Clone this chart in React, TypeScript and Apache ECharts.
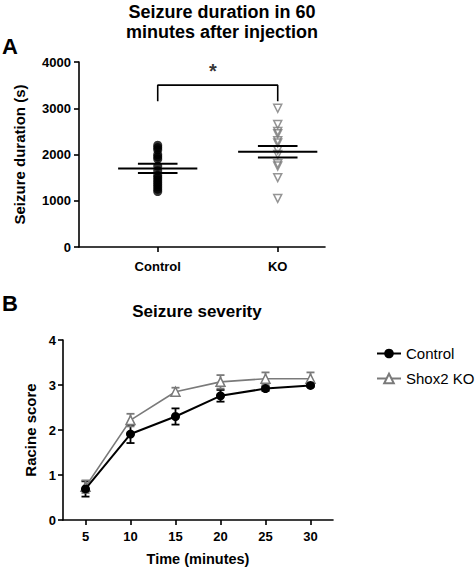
import React, { useEffect, useRef } from "react";
import * as echarts from "echarts";

// Panel A: seizure duration (s)
const groups = ["Control", "KO"];
const controlDuration = [2200, 2150, 2100, 2000, 1950, 1900, 1750, 1650, 1550, 1500, 1450, 1400, 1350, 1300, 1250, 1200];
const koDuration = [3000, 2650, 2500, 2450, 2300, 2250, 2100, 2000, 1800, 1750, 1500, 1050];
const durationMean = [1700, 2060];
const durationSem = [100, 125];
const bracketLow = 3150;
const bracketHigh = 3500;
const durationTicks = [0, 1000, 2000, 3000, 4000];

// Panel B: seizure severity (Racine score)
const timePoints = ["5", "10", "15", "20", "25", "30"];
const controlScore = [0.69, 1.91, 2.3, 2.76, 2.92, 2.99];
const controlScoreSem = [0.17, 0.2, 0.18, 0.13, 0.05, 0.03];
const koScore = [0.74, 2.22, 2.85, 3.07, 3.14, 3.14];
const koScoreSem = [0.14, 0.14, 0.09, 0.15, 0.14, 0.14];
const scoreTicks = [0, 1, 2, 3, 4];

const FONT = 'Arial, "Liberation Sans", Helvetica, sans-serif';
const GRAY = "#7a7a7a";

export default function App() {
  const ref = useRef<HTMLDivElement>(null);

  useEffect(() => {
    if (!ref.current) return;
    const chart = echarts.init(ref.current, null, { renderer: "svg" });

    const errorBarItem = (color: string) => (params: any, api: any) => {
      const x = api.value(0);
      const lo = api.value(1);
      const hi = api.value(2);
      const top = api.coord([x, hi]);
      const bot = api.coord([x, lo]);
      const w = 4;
      const style = { stroke: color, lineWidth: 1.8 };
      return {
        type: "group",
        children: [
          { type: "line", shape: { x1: top[0], y1: top[1], x2: bot[0], y2: bot[1] }, style },
          { type: "line", shape: { x1: top[0] - w, y1: top[1], x2: top[0] + w, y2: top[1] }, style },
          { type: "line", shape: { x1: bot[0] - w, y1: bot[1], x2: bot[0] + w, y2: bot[1] }, style },
        ],
      };
    };

    const meanSemItem = (params: any, api: any) => {
      const x = api.value(0);
      const m = api.value(1);
      const s = api.value(2);
      const mL = api.coord([x - 0.33, m]);
      const mR = api.coord([x + 0.33, m]);
      const uL = api.coord([x - 0.165, m + s]);
      const uR = api.coord([x + 0.165, m + s]);
      const lL = api.coord([x - 0.165, m - s]);
      const lR = api.coord([x + 0.165, m - s]);
      const style = { stroke: "#000", lineWidth: 2 };
      return {
        type: "group",
        children: [
          { type: "line", shape: { x1: mL[0], y1: mL[1], x2: mR[0], y2: mR[1] }, style },
          { type: "line", shape: { x1: uL[0], y1: uL[1], x2: uR[0], y2: uR[1] }, style },
          { type: "line", shape: { x1: lL[0], y1: lL[1], x2: lR[0], y2: lR[1] }, style },
        ],
      };
    };

    const axisLine = { show: true, lineStyle: { color: "#000", width: 1.6 } };
    const axisTick = { show: true, length: 5, lineStyle: { color: "#000", width: 1.6 } };
    const labelStyle = { color: "#000", fontWeight: "bold" as const, fontSize: 13, fontFamily: FONT };
    const nameStyle = { color: "#000", fontWeight: "bold" as const, fontFamily: FONT };

    const option: any = {
      animation: false,
      textStyle: { fontFamily: FONT, color: "#000" },
      grid: [
        { left: 79, top: 62, width: 246, height: 185 },
        { left: 63, top: 340, width: 270, height: 180 },
      ],
      legend: {
        data: ["Control", "Shox2 KO"],
        orient: "vertical",
        left: 371,
        top: 341,
        itemWidth: 24,
        itemHeight: 12,
        itemGap: 10,
        textStyle: { fontSize: 15, color: "#000", fontFamily: FONT },
      },
      xAxis: [
        {
          type: "value",
          gridIndex: 0,
          min: 0.344,
          max: 2.394,
          axisLine,
          axisTick: { ...axisTick, customValues: [1, 2] },
          axisLabel: {
            ...labelStyle,
            customValues: [1, 2],
            margin: 13,
            formatter: (v: number) => groups[Math.round(v) - 1] ?? "",
          },
          splitLine: { show: false },
        },
        {
          type: "category",
          gridIndex: 1,
          data: timePoints,
          boundaryGap: true,
          axisLine,
          axisTick: { ...axisTick, alignWithLabel: true },
          axisLabel: { ...labelStyle, margin: 10 },
          name: "Time (minutes)",
          nameLocation: "middle",
          nameGap: 31,
          nameTextStyle: { ...nameStyle, fontSize: 14.5 },
        },
      ],
      yAxis: [
        {
          type: "value",
          gridIndex: 0,
          min: durationTicks[0],
          max: durationTicks[durationTicks.length - 1],
          interval: 1000,
          axisLine,
          axisTick,
          axisLabel: { ...labelStyle, margin: 8, formatter: (v: number) => String(v) },
          splitLine: { show: false },
          name: "Seizure duration (s)",
          nameLocation: "middle",
          nameGap: 52,
          nameTextStyle: { ...nameStyle, fontSize: 15 },
        },
        {
          type: "value",
          gridIndex: 1,
          min: scoreTicks[0],
          max: scoreTicks[scoreTicks.length - 1],
          interval: 1,
          axisLine,
          axisTick,
          axisLabel: { ...labelStyle, margin: 7, formatter: (v: number) => String(v) },
          splitLine: { show: false },
          name: "Racine score",
          nameLocation: "middle",
          nameGap: 22,
          nameTextStyle: { ...nameStyle, fontSize: 15 },
        },
      ],
      graphic: [
        {
          type: "text",
          x: 222,
          y: 11.5,
          style: { text: "Seizure duration in 60", font: `bold 18px ${FONT}`, fill: "#000", textAlign: "center", textVerticalAlign: "middle" },
        },
        {
          type: "text",
          x: 222,
          y: 31.5,
          style: { text: "minutes after injection", font: `bold 18px ${FONT}`, fill: "#000", textAlign: "center", textVerticalAlign: "middle" },
        },
        {
          type: "text",
          x: 2,
          y: 46,
          style: { text: "A", font: `bold 22px ${FONT}`, fill: "#000", textAlign: "left", textVerticalAlign: "middle" },
        },
        {
          type: "text",
          x: 197,
          y: 311,
          style: { text: "Seizure severity", font: `bold 17px ${FONT}`, fill: "#000", textAlign: "center", textVerticalAlign: "middle" },
        },
        {
          type: "text",
          x: 2,
          y: 303,
          style: { text: "B", font: `bold 22px ${FONT}`, fill: "#000", textAlign: "left", textVerticalAlign: "middle" },
        },
      ],
      series: [
        {
          name: "Control duration",
          type: "scatter",
          xAxisIndex: 0,
          yAxisIndex: 0,
          symbol: "circle",
          symbolSize: 9,
          itemStyle: { color: "#000" },
          data: controlDuration.map((v) => [1, v]),
        },
        {
          name: "KO duration",
          type: "scatter",
          xAxisIndex: 0,
          yAxisIndex: 0,
          symbol: "triangle",
          symbolRotate: 180,
          symbolSize: 8,
          itemStyle: { color: "rgba(255,255,255,0)", borderColor: GRAY, borderWidth: 1.5 },
          data: koDuration.map((v) => [2, v]),
        },
        {
          name: "Mean SEM",
          type: "custom",
          xAxisIndex: 0,
          yAxisIndex: 0,
          renderItem: meanSemItem,
          encode: { x: 0, y: 1 },
          data: durationMean.map((m, i) => [i + 1, m, durationSem[i]]),
          z: 5,
        },
        {
          name: "Bracket",
          type: "line",
          xAxisIndex: 0,
          yAxisIndex: 0,
          symbol: "none",
          lineStyle: { color: "#000", width: 1.6 },
          data: [
            [1, bracketLow],
            [1, bracketHigh],
            [2, bracketHigh],
            [2, bracketLow],
          ],
        },
        {
          name: "Significance",
          type: "scatter",
          xAxisIndex: 0,
          yAxisIndex: 0,
          symbolSize: 0,
          label: {
            show: true,
            position: "inside",
            formatter: "*",
            fontSize: 20,
            fontWeight: "bold",
            color: "#000",
            fontFamily: FONT,
          },
          data: [[1.46, 3800]],
        },
        {
          name: "Control err",
          type: "custom",
          xAxisIndex: 1,
          yAxisIndex: 1,
          renderItem: errorBarItem("#000"),
          encode: { x: 0, y: [1, 2] },
          data: controlScore.map((v, i) => [i, v - controlScoreSem[i], v + controlScoreSem[i]]),
          z: 2,
        },
        {
          name: "KO err",
          type: "custom",
          xAxisIndex: 1,
          yAxisIndex: 1,
          renderItem: errorBarItem(GRAY),
          encode: { x: 0, y: [1, 2] },
          data: koScore.map((v, i) => [i, v - koScoreSem[i], v + koScoreSem[i]]),
          z: 2,
        },
        {
          name: "Shox2 KO",
          type: "line",
          xAxisIndex: 1,
          yAxisIndex: 1,
          symbol: "triangle",
          symbolSize: 9,
          color: GRAY,
          lineStyle: { color: GRAY, width: 1.6 },
          itemStyle: { color: "#fff", borderColor: GRAY, borderWidth: 1.5 },
          data: koScore,
          z: 3,
        },
        {
          name: "Control",
          type: "line",
          xAxisIndex: 1,
          yAxisIndex: 1,
          symbol: "circle",
          symbolSize: 9,
          color: "#000",
          lineStyle: { color: "#000", width: 2 },
          itemStyle: { color: "#000" },
          data: controlScore,
          z: 4,
        },
      ],
    };

    chart.setOption(option);
    return () => chart.dispose();
  }, []);

  return (
    <div
      ref={ref}
      style={{ position: "absolute", left: 0, top: 0, width: 475, height: 569, background: "#fff" }}
    />
  );
}
